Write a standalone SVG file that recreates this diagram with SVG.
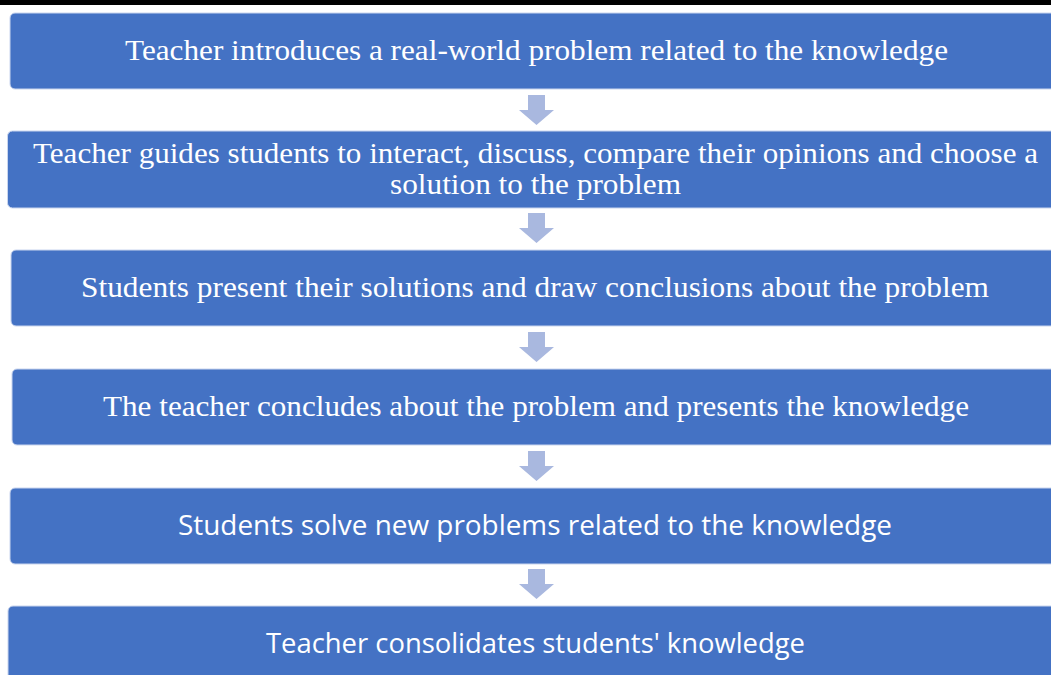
<svg xmlns="http://www.w3.org/2000/svg" width="1051" height="675" viewBox="0 0 1051 675">
<style>
.box{fill:#4472C4;stroke:#C9D5EE;stroke-width:1}
.serif{font-family:"Liberation Serif","DejaVu Serif",serif;font-size:29px;fill:#FFFFFF;text-anchor:middle}
.sans{font-family:"Open Sans","Noto Sans","Liberation Sans",sans-serif;font-size:28px;fill:#FFFFFF;text-anchor:middle}
.arr{fill:#A9B8DF}
</style>
<defs>
<path id="dn" d="M-9 0 H8 V15 H17 L-0.5 30 L-18 15 H-9 Z"/>
</defs>
<rect x="0" y="0" width="1051" height="675" fill="#FFFFFF"/>
<rect x="0" y="0" width="1051" height="5" fill="#000000"/>
<g id="connectors">
<use href="#dn" class="arr" x="537" y="95"/>
<use href="#dn" class="arr" x="537" y="213"/>
<use href="#dn" class="arr" x="537" y="332"/>
<use href="#dn" class="arr" x="537" y="451"/>
<use href="#dn" class="arr" x="537" y="569"/>
</g>
<g id="n1">
<rect class="box" x="10" y="13" width="1060" height="76" rx="5"/>
<text class="serif" x="536.5" y="60" textLength="823" lengthAdjust="spacingAndGlyphs">Teacher introduces a real-world problem related to the knowledge</text>
</g>
<g id="n2">
<rect class="box" x="7.5" y="131" width="1060" height="77" rx="5"/>
<text class="serif" x="535.5" y="163" textLength="1005" lengthAdjust="spacingAndGlyphs">Teacher guides students to interact, discuss, compare their opinions and choose a</text>
<text class="serif" x="535.5" y="194" textLength="291" lengthAdjust="spacingAndGlyphs">solution to the problem</text>
</g>
<g id="n3">
<rect class="box" x="11" y="250" width="1060" height="76" rx="5"/>
<text class="serif" x="535" y="297" textLength="908" lengthAdjust="spacingAndGlyphs">Students present their solutions and draw conclusions about the problem</text>
</g>
<g id="n4">
<rect class="box" x="12" y="369" width="1060" height="76" rx="5"/>
<text class="serif" x="536" y="416" textLength="866" lengthAdjust="spacingAndGlyphs">The teacher concludes about the problem and presents the knowledge</text>
</g>
<g id="n5">
<rect class="box" x="10" y="488" width="1060" height="76" rx="5"/>
<text class="sans" x="535" y="535" textLength="714" lengthAdjust="spacingAndGlyphs">Students solve new problems related to the knowledge</text>
</g>
<g id="n6">
<rect class="box" x="8" y="606" width="1060" height="90" rx="5"/>
<text class="sans" x="535.5" y="653" textLength="539" lengthAdjust="spacingAndGlyphs">Teacher consolidates students' knowledge</text>
</g>
</svg>
